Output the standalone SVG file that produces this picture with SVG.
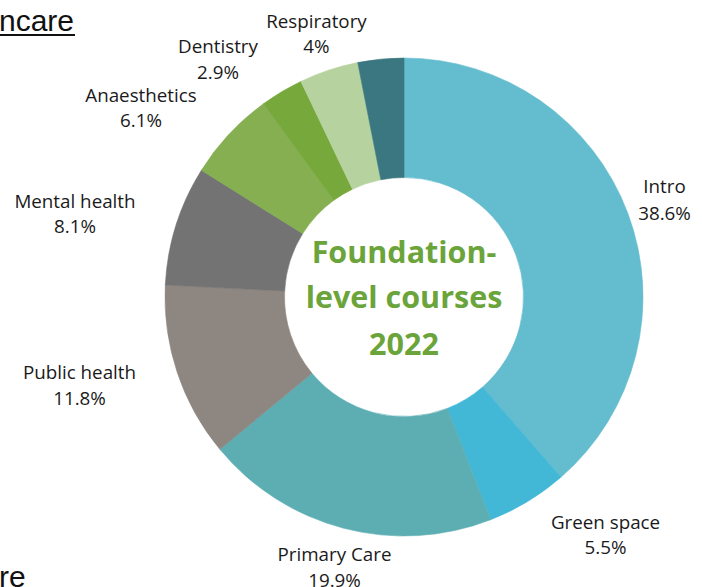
<svg xmlns="http://www.w3.org/2000/svg" width="702" height="587" viewBox="0 0 702 587">
<style>
.lbl{font-family:"Open Sans","Liberation Sans",sans-serif;font-size:18.8px;fill:#1a1a1a;text-anchor:middle}
.ctr{font-family:"Open Sans","Liberation Sans",sans-serif;font-size:30.5px;font-weight:bold;fill:#6ba43a;text-anchor:middle}
.frag{font-family:"Liberation Sans","Open Sans",sans-serif;font-size:30px;fill:#111}
.seg{stroke-width:0.6;stroke-linejoin:round}
</style>
<rect width="702" height="587" fill="#ffffff"/>
<text class="frag" x="-1" y="31">ncare</text>
<rect x="0" y="34" width="75" height="2" fill="#111"/>
<text class="frag" x="-1" y="587">re</text>
<g id="chart">
<g id="intro"><path class="seg" fill="#64bccf" stroke="#64bccf" d="M404,58 A239,239 0 0 1 560.93,477.25 L482.46,387.13 A119.5,119.5 0 0 0 404,177.5 Z"/></g>
<g id="green-space"><path class="seg" fill="#43b8d6" stroke="#43b8d6" d="M560.93,477.25 A239,239 0 0 1 490.57,519.77 L447.28,408.39 A119.5,119.5 0 0 0 482.46,387.13 Z"/></g>
<g id="primary-care"><path class="seg" fill="#5daeb3" stroke="#5daeb3" d="M490.57,519.77 A239,239 0 0 1 219.85,449.34 L311.93,373.17 A119.5,119.5 0 0 0 447.28,408.39 Z"/></g>
<g id="public-health"><path class="seg" fill="#8e8680" stroke="#8e8680" d="M219.85,449.34 A239,239 0 0 1 165.30,284.99 L284.65,291.00 A119.5,119.5 0 0 0 311.93,373.17 Z"/></g>
<g id="mental-health"><path class="seg" fill="#737373" stroke="#737373" d="M165.30,284.99 A239,239 0 0 1 201.40,170.21 L302.70,233.61 A119.5,119.5 0 0 0 284.65,291.00 Z"/></g>
<g id="anaesthetics"><path class="seg" fill="#85af50" stroke="#85af50" d="M201.40,170.21 A239,239 0 0 1 263.52,103.64 L333.76,200.32 A119.5,119.5 0 0 0 302.70,233.61 Z"/></g>
<g id="dentistry"><path class="seg" fill="#76a83c" stroke="#76a83c" d="M263.52,103.64 A239,239 0 0 1 300.90,81.40 L352.45,189.20 A119.5,119.5 0 0 0 333.76,200.32 Z"/></g>
<g id="respiratory"><path class="seg" fill="#b5d29f" stroke="#b5d29f" d="M300.90,81.40 A239,239 0 0 1 357.74,62.52 L380.87,179.76 A119.5,119.5 0 0 0 352.45,189.20 Z"/></g>
<g id="other"><path class="seg" fill="#3b7780" stroke="#3b7780" d="M357.74,62.52 A239,239 0 0 1 404,58 L404,177.5 A119.5,119.5 0 0 0 380.87,179.76 Z"/></g>
</g>
<g id="center-title">
<text class="ctr" x="404" y="263">Foundation-</text>
<text class="ctr" x="404" y="308">level courses</text>
<text class="ctr" x="404" y="355">2022</text>
</g>
<g id="labels">
<g id="lbl-intro"><text class="lbl" x="664.5" y="193">Intro</text><text class="lbl" x="664.5" y="220">38.6%</text></g>
<g id="lbl-green"><text class="lbl" x="605.5" y="529">Green space</text><text class="lbl" x="605.5" y="554">5.5%</text></g>
<g id="lbl-primary"><text class="lbl" x="334.5" y="561">Primary Care</text><text class="lbl" x="334.5" y="587">19.9%</text></g>
<g id="lbl-public"><text class="lbl" x="79.5" y="379">Public health</text><text class="lbl" x="79.5" y="405">11.8%</text></g>
<g id="lbl-mental"><text class="lbl" x="75" y="208">Mental health</text><text class="lbl" x="75" y="233">8.1%</text></g>
<g id="lbl-anaes"><text class="lbl" x="141" y="102">Anaesthetics</text><text class="lbl" x="141" y="127">6.1%</text></g>
<g id="lbl-dent"><text class="lbl" x="218" y="53">Dentistry</text><text class="lbl" x="218" y="79">2.9%</text></g>
<g id="lbl-resp"><text class="lbl" x="316.5" y="28">Respiratory</text><text class="lbl" x="316.5" y="53">4%</text></g>
</g>
</svg>
